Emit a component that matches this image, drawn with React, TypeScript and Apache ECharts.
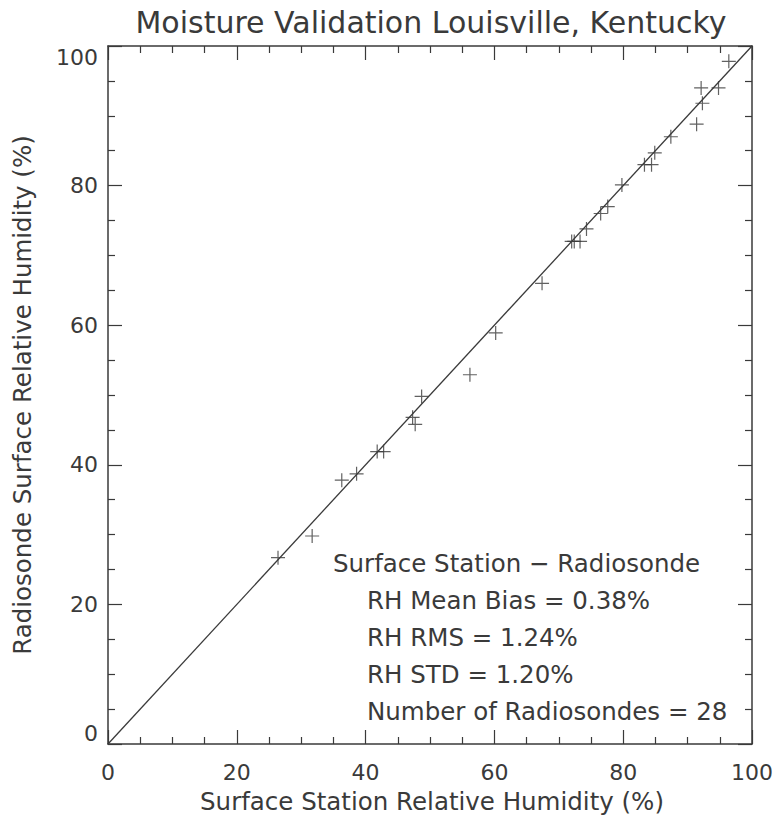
import React, { useEffect, useRef } from "react";
import * as echarts from "echarts";

const TITLE = "Moisture Validation Louisville, Kentucky";
const X_TITLE = "Surface Station Relative Humidity (%)";
const Y_TITLE = "Radiosonde Surface Relative Humidity (%)";

// Surface station RH (x) vs radiosonde RH (y)
const surfaceRH = [
  26.4, 31.7, 36.3, 38.6, 41.8, 42.8, 47.3, 47.7, 48.7, 56.2, 60.2, 67.4, 72.0, 72.4,
  73.3, 74.3, 76.5, 77.6, 79.8, 83.3, 84.4, 84.9, 87.4, 91.4, 92.3, 92.1, 94.8, 96.4,
];
const radiosondeRH = [
  26.7, 29.8, 37.8, 38.7, 41.9, 41.9, 46.8, 45.8, 49.8, 52.9, 58.9, 66.0, 72.0, 72.0,
  72.0, 73.8, 76.0, 77.0, 80.1, 83.0, 83.0, 84.7, 87.0, 88.8, 91.8, 94.0, 94.0, 97.8,
];

// 1:1 reference line
const lineX = [0, 100];
const lineY = [0, 100];

const statsHeader = "Surface Station \u2212 Radiosonde";
const statsLines = [
  "RH Mean Bias = 0.38%",
  "RH RMS = 1.24%",
  "RH STD = 1.20%",
  "Number of Radiosondes = 28",
];

const INK = "#3a3a3a";
const FONT = "DejaVu Sans";

const CROSS = "path://M0,6.4H14V7.6H0Z M6.4,0H7.6V14H6.4Z";

function axisCommon(showLabels: boolean) {
  return {
    type: "value" as const,
    min: 0,
    max: 100,
    interval: 20,
    axisLine: { show: true, onZero: false, lineStyle: { color: INK, width: 1.5 } },
    axisTick: { show: true, inside: true, length: 14, lineStyle: { color: INK, width: 1.2 } },
    minorTick: { show: true, splitNumber: 4, length: 7, lineStyle: { color: INK, width: 1.2 } },
    splitLine: { show: false },
    minorSplitLine: { show: false },
    axisLabel: {
      show: showLabels,
      color: INK,
      fontFamily: FONT,
      fontSize: 22,
    },
  };
}

export default function App() {
  const ref = useRef<HTMLDivElement>(null);

  useEffect(() => {
    if (!ref.current) return;
    const chart = echarts.init(ref.current, undefined, { renderer: "svg" });

    const xb: any = axisCommon(true);
    xb.position = "bottom";
    xb.axisLabel.margin = 17;
    const xt: any = axisCommon(false);
    xt.position = "top";
    const yl: any = axisCommon(true);
    yl.position = "left";
    yl.axisLabel.margin = 10;
    yl.axisLabel.verticalAlignMaxLabel = "top";
    yl.axisLabel.verticalAlignMinLabel = "bottom";
    const yr: any = axisCommon(false);
    yr.position = "right";

    const scatterData = surfaceRH.map((x, i) => [x, radiosondeRH[i]]);
    const lineData = lineX.map((x, i) => [x, lineY[i]]);

    const annX1 = 333;
    const annX2 = 367;
    const annY0 = 563;
    const annStep = 37;

    const txt = (text: string, x: number, y: number, size: number, align: string, rotation = 0) => ({
      type: "text",
      x,
      y,
      rotation,
      style: {
        text,
        fill: INK,
        font: `${size}px "${FONT}"`,
        textAlign: align,
        textVerticalAlign: "middle",
      },
    });

    const graphics: any[] = [
      txt(TITLE, 431, 22, 30, "center"),
      txt(X_TITLE, 432, 801, 24.5, "center"),
      txt(Y_TITLE, 22, 395, 24.5, "center", Math.PI / 2),
      txt(statsHeader, annX1, annY0, 24.5, "left"),
      ...statsLines.map((t, i) => txt(t, annX2, annY0 + annStep * (i + 1), 24.5, "left")),
    ];

    chart.setOption({
      animation: false,
      backgroundColor: "#ffffff",
      grid: { left: 108, right: 27, top: 46, bottom: 75, containLabel: false },
      xAxis: [xb, xt],
      yAxis: [yl, yr],
      series: [
        {
          type: "line",
          data: lineData,
          xAxisIndex: 0,
          yAxisIndex: 0,
          symbol: "none",
          silent: true,
          lineStyle: { color: INK, width: 1.3 },
        },
        {
          type: "scatter",
          data: scatterData,
          xAxisIndex: 0,
          yAxisIndex: 0,
          symbol: CROSS,
          symbolSize: 14,
          itemStyle: { color: INK },
          silent: true,
        },
      ],
      graphic: graphics,
    });

    return () => chart.dispose();
  }, []);

  return (
    <div
      ref={ref}
      style={{ position: "fixed", left: 0, top: 0, width: 779, height: 819, background: "#fff" }}
    />
  );
}
